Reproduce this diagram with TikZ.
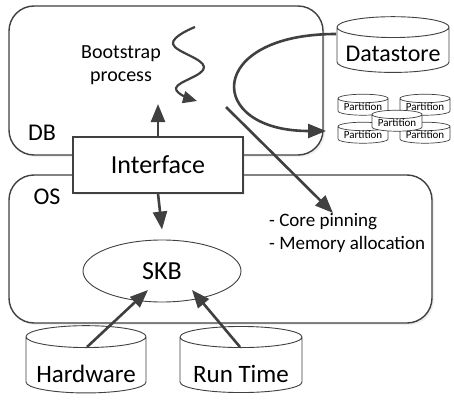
\documentclass[tikz,border=0pt]{standalone}
\usepackage{fontspec}
\setmainfont{Carlito}
\usetikzlibrary{shapes.geometric,arrows.meta,positioning,shadows}

\definecolor{linegray}{HTML}{404040}

\begin{document}
\begin{tikzpicture}[x=1pt,y=-1pt,
	frame/.style={draw=linegray,fill=white,line width=1.4pt,rounded corners=25pt,
		drop shadow={opacity=0.12,shadow xshift=2pt,shadow yshift=-2pt}},
	lbl/.style={font=\fontsize{24}{28}\selectfont,inner sep=0pt},
	box/.style={draw=linegray,line width=1.3pt,fill=white,minimum width=170pt,minimum height=56pt,
		font=\fontsize{26}{30}\selectfont,drop shadow={opacity=0.12,shadow xshift=2pt,shadow yshift=-2pt}},
	store/.style={cylinder,shape border rotate=90,draw=linegray,line width=0.9pt,aspect=0.22,fill=white,inner sep=0pt},
	part/.style={store,minimum width=50pt,minimum height=21pt,line width=0.7pt,font=\fontsize{11}{12}\selectfont},
	flow/.style={draw=linegray,line width=2.6pt,-{Triangle[length=18pt,width=14pt]}},
	wiggle/.style={draw=linegray,line width=2.2pt,-{Triangle[length=14pt,width=12pt]}}
	]
	\useasboundingbox (0,0) rectangle (454,401);
	% layers
	\draw[frame] (9,6) rectangle (323,155);
	\draw[frame] (9,175) rectangle (432,323);
	\node[lbl] (db) at (42,133) {DB};
	\node[lbl] (os) at (47,197) {OS};
	\node[box] (iface) at (158,165) {Interface};
	\node[ellipse,draw=linegray,line width=0.9pt,minimum width=158pt,minimum height=62pt,
		font=\fontsize{26}{30}\selectfont] (skb) at (162,271) {SKB};
	% stores
	\node[store,minimum width=120pt,minimum height=66pt,text height=34pt,text depth=0pt,
		font=\fontsize{25}{30}\selectfont] (hw) at (86,365) {Hardware};
	\node[store,minimum width=122pt,minimum height=66pt,text height=34pt,text depth=0pt,
		font=\fontsize{25}{30}\selectfont] (rt) at (241,365) {Run Time};
	\node[store,minimum width=112pt,minimum height=54pt,text height=24pt,text depth=0pt,
		font=\fontsize{24}{28}\selectfont] (ds) at (393,50) {Datastore};
	\node[part] (p1) at (363,107) {Partition};
	\node[part] (p2) at (425,107) {Partition};
	\node[part] (p3) at (363,135) {Partition};
	\node[part] (p4) at (425,135) {Partition};
	\node[part] (p5) at (397,123) {Partition};
	% texts
	\node[align=center,font=\fontsize{20}{23}\selectfont] (boot) at (121,65) {Bootstrap\\process};
	\node[align=left,anchor=north west,inner sep=0pt,font=\fontsize{19}{23}\selectfont] (tune) at (269,213) {- Core pinning\\- Memory allocation};
	% free ends
	\coordinate (bootin) at (158,104);
	\coordinate (pinfrom) at (226,107);
	\coordinate (pinto) at (333,213);
	\coordinate (dsfrom) at (336,34);
	\coordinate (partin) at (326,131);
	\coordinate (hwto) at (148,290);
	\coordinate (rtto) at (192,290);
	% arrows
	\draw[flow] (iface.north) -- (bootin);
	\draw[flow] (iface.south) -- ([yshift=10pt]skb.north);
	\draw[flow] (pinfrom) -- (pinto);
	\draw[flow] (dsfrom) .. controls (205,34) and (205,131) .. (partin);
	\draw[flow] ([shift={(1,-18)}]hw.center) -- (hwto);
	\draw[flow] ([shift={(-1,-18)}]rt.center) -- (rtto);
	\draw[wiggle] plot[smooth,tension=0.7] coordinates {(195,27) (173,44) (204,67) (176,88) (197,101)};
\end{tikzpicture}
\end{document}
